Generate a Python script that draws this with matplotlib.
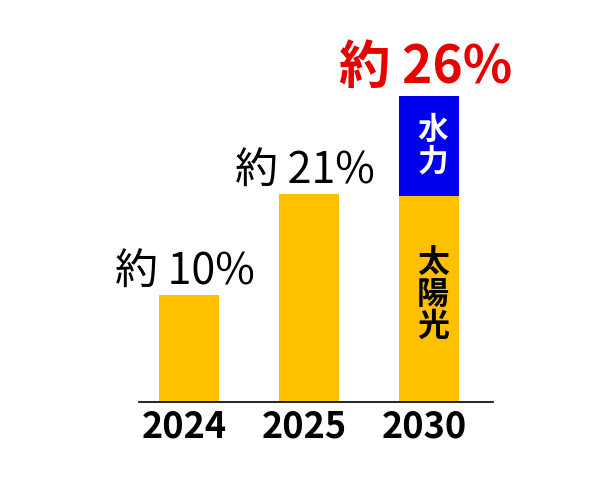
import matplotlib.pyplot as plt
from matplotlib.transforms import ScaledTranslation

plt.rcParams['font.family'] = ['Noto Sans CJK JP', 'DejaVu Sans']

# bar heights (percent share, drawn scale)
years = ['2024', '2025', '2030']
solar = [10.0, 19.4, 19.25]
hydro = [0.0, 0.0, 9.35]
value_labels = ['約 10%', '約 21%', '約 26%']
label_colours = ['black', 'black', '#E60000']

ORANGE = '#FFC000'
BLUE = '#0000EE'

fig = plt.figure(figsize=(6.0, 4.88), dpi=100)
# axes placed in pixel terms: left 139, right 493, baseline at y=402 from top
ax = fig.add_axes([139 / 600, (488 - 402) / 488, (493 - 139) / 600, 402 / 488])

x = list(range(len(years)))
ax.bar(x, solar, width=0.5, color=ORANGE)
ax.bar(x, hydro, width=0.5, bottom=solar, color=BLUE)

ax.set_xlim(-0.4167, 2.529)
ax.set_ylim(0, 402 / 10.7)

for sp in ['top', 'right', 'left']:
    ax.spines[sp].set_visible(False)
ax.spines['bottom'].set_linewidth(1.2)
ax.set_yticks([])
ax.tick_params(axis='x', length=0, pad=5)
ax.set_xticks(x)
ax.set_xticklabels(years, fontsize=26, fontweight='bold')
shift = ScaledTranslation(-5 / 100, 0, fig.dpi_scale_trans)
for lab in ax.get_xticklabels():
    lab.set_transform(lab.get_transform() + shift)

# value labels above each bar
for i, (txt, col) in enumerate(zip(value_labels, label_colours)):
    top = solar[i] + hydro[i]
    big = i == 2
    ax.annotate(txt, (x[i], top), xytext=(-3, 9.5 if big else 7.5),
                textcoords='offset points',
                ha='center', va='baseline', color=col,
                fontsize=37 if big else 31,
                fontweight='bold' if big else 'normal')

# segment names written vertically inside the 2030 bar
ax.text(x[2] + 0.03, solar[2] + hydro[2] / 2, '水\n力', ha='center', va='center',
        color='white', fontsize=22, fontweight='bold', linespacing=1.0)
ax.text(x[2] + 0.03, solar[2] / 2 + 0.4, '太\n陽\n光', ha='center', va='center',
        color='black', fontsize=23, fontweight='bold', linespacing=1.0)

plt.savefig('out.png', dpi=100)
